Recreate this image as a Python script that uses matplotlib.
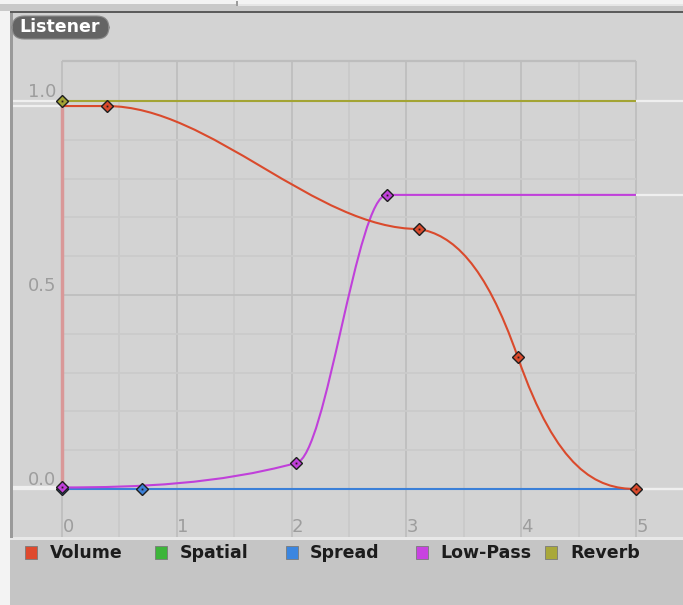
import matplotlib
matplotlib.use("Agg")
import matplotlib.pyplot as plt
from matplotlib.patches import Rectangle, FancyBboxPatch, PathPatch
from matplotlib.path import Path

plt.rcParams['font.family'] = ['DejaVu Sans']

# ---------------- data (curve keyframes: time, value, in/out tangent) -------------
vol_x = [0.0, 0.39, 3.11, 3.97, 5.0]
vol_y = [0.987, 0.987, 0.67, 0.34, 0.0]
vol_in = [0.0, 0.0, 0.0, -0.85, 0.0]
vol_out = [0.0, 0.0, -0.05, -0.85, 0.0]
vol_shown = [False, True, True, True, True]

lp_x = [0.0, 2.04, 2.83]
lp_y = [0.004, 0.067, 0.758]
lp_in = [0.0, 0.08, 0.0]
lp_out = [0.0, 0.05, 0.0]
lp_shown = [True, True, True]

spread_x = [0.0, 0.70]
spread_y = [0.0, 0.0]
spread_in = [0.0, 0.0]
spread_out = [0.0, 0.0]
spread_shown = [True, True]

rev_x = [0.0]
rev_y = [1.0]
rev_in = [0.0]
rev_out = [0.0]
rev_shown = [True]

x_ticks = [0, 1, 2, 3, 4, 5]
y_ticks = [0.0, 0.5, 1.0]
y_tick_labels = ["0.0", "0.5", "1.0"]

legend_names = ["Volume", "Spatial", "Spread", "Low-Pass", "Reverb"]
legend_colors = ["#df4a2e", "#3db53a", "#3b86e0", "#c843e0", "#a9a83a"]
line_colors = {"vol": "#da4a2c", "lp": "#c040da", "spread": "#3b80d8", "rev": "#a3a434"}

W, H = 683, 605
fig = plt.figure(figsize=(W / 100, H / 100), dpi=100, facecolor="#f3f3f3")


def frect(x0, y0, x1, y1, color, z=0):
    fig.add_artist(Rectangle((x0 / W, 1 - y1 / H), (x1 - x0) / W, (y1 - y0) / H,
                             transform=fig.transFigure, facecolor=color,
                             edgecolor="none", zorder=z))


# window chrome
frect(0, 4, W, 11, "#c9c9c9")
frect(237, 4, W, 6, "#e6e6e6")
frect(236, 1, 238, 6, "#9c9c9c")
frect(12, 12, W, 538, "#d3d3d3")
frect(10, 538, W, H, "#c5c5c5")
frect(10, 537, W, 539.5, "#e8e8e8")
frect(10, 12, 13, 538, "#9a9a9a")
frect(10, 11, W, 13, "#5c5c5c")

# axes mapping: data 0 -> px 62, 5 -> px 636 ; y 1.0 -> px 101, 0 -> px 489
PX_X = (636 - 62) / 5.0
PX_Y = (489 - 101) / 1.0


def xd(px):
    return (px - 62) / PX_X


def yd(py):
    return (489 - py) / PX_Y


ax = fig.add_axes([13 / W, 1 - 537 / H, (W - 13) / W, (537 - 13) / H])
ax.set_xlim(xd(13), xd(W))
ax.set_ylim(yd(537), yd(13))
ax.axis("off")
ax.patch.set_visible(False)

# grid
top = yd(61)
for i in range(11):
    xv = i * 0.5
    c = "#bfbfbf" if i % 2 == 0 else "#cacaca"
    ax.plot([xv, xv], [yd(537), top], color=c, lw=1.3, zorder=1, solid_capstyle="butt")
for j in range(11):
    yv = j * 0.1
    c = "#bebebe" if j % 5 == 0 else "#cbcbcb"
    ax.plot([0, 5], [yv, yv], color=c, lw=1.3, zorder=1, solid_capstyle="butt")
ax.plot([0, 5], [top, top], color="#bdbdbd", lw=1.6, zorder=1, solid_capstyle="butt")

# tick labels
for v, lab in zip(y_ticks, y_tick_labels):
    ax.text(xd(56), v + 9 / PX_Y, lab, ha="right", va="center", fontsize=13,
            color="#9d9d9d", zorder=2)
for v in x_ticks:
    ax.text(v + 6 / PX_X, yd(527), str(v), ha="center", va="center", fontsize=13,
            color="#9d9d9d", zorder=2)


def curve_path(xs, ys, tin, tout):
    verts = [(xs[0], ys[0])]
    codes = [Path.MOVETO]
    for k in range(len(xs) - 1):
        dx = xs[k + 1] - xs[k]
        verts += [(xs[k] + dx / 3, ys[k] + tout[k] * dx / 3),
                  (xs[k + 1] - dx / 3, ys[k + 1] - tin[k + 1] * dx / 3),
                  (xs[k + 1], ys[k + 1])]
        codes += [Path.CURVE4] * 3
    if xs[-1] < 5:
        verts.append((5, ys[-1]))
        codes.append(Path.LINETO)
    return Path(verts, codes)


ext = "#efefef"
xmin, xmax = ax.get_xlim()
curves = [
    (spread_x, spread_y, spread_in, spread_out, spread_shown, line_colors["spread"], 4),
    (lp_x, lp_y, lp_in, lp_out, lp_shown, line_colors["lp"], 5),
    (vol_x, vol_y, vol_in, vol_out, vol_shown, line_colors["vol"], 6),
    (rev_x, rev_y, rev_in, rev_out, rev_shown, line_colors["rev"], 7),
]
for xs, ys, ti, to, sh, col, z in curves:
    ax.plot([xmin, 0], [ys[0], ys[0]], color=ext, lw=1.6, zorder=2.5)
    ax.plot([5, xmax], [ys[-1], ys[-1]], color=ext, lw=1.6, zorder=2.5)

# light volume edge at time 0
ax.plot([0, 0], [0, vol_y[0]], color="#d99898", lw=2.5, zorder=3, solid_capstyle="butt")

for xs, ys, ti, to, sh, col, z in curves:
    ax.add_patch(PathPatch(curve_path(xs, ys, ti, to), facecolor="none",
                           edgecolor=col, lw=1.5, zorder=z))

# keys
for xs, ys, ti, to, sh, col, z in curves:
    kx = [a for a, s in zip(xs, sh) if s]
    ky = [b for b, s in zip(ys, sh) if s]
    ax.plot(kx, ky, "D", ms=6.4, mfc=col, mec="#1e1e1e", mew=1.0, zorder=10 + z,
            linestyle="none")
    ax.plot(kx, ky, "s", ms=1.3, mfc="#2a1a1a", mec="none", zorder=10.5 + z,
            linestyle="none")

# "Listener" badge
fig.add_artist(FancyBboxPatch((12 / W, 1 - 39 / H), 97 / W, 23 / H,
                              boxstyle="round,pad=0,rounding_size=0.018",
                              transform=fig.transFigure, facecolor="#646464",
                              edgecolor="#8a8a8a", lw=0.8, zorder=5,
                              mutation_aspect=W / H))
fig.text(60 / W, 1 - 27.5 / H, "Listener", ha="center", va="center",
         fontsize=12.5, fontweight="bold", color="white", zorder=6)

# legend
sq_x = [25, 155, 286, 416, 545]
txt_x = [50, 180, 310, 440, 570]
for sx, tx, name, col in zip(sq_x, txt_x, legend_names, legend_colors):
    fig.add_artist(Rectangle((sx / W, 1 - 559 / H), 12 / W, 13 / H,
                             transform=fig.transFigure, facecolor=col,
                             edgecolor="#7a7a7a", lw=0.6, zorder=5))
    fig.text(tx / W, 1 - 553 / H, name, ha="left", va="center", fontsize=12.5,
             fontweight="bold", color="#1c1c1c", zorder=6)

fig.savefig("out.png", dpi=100, facecolor=fig.get_facecolor())
